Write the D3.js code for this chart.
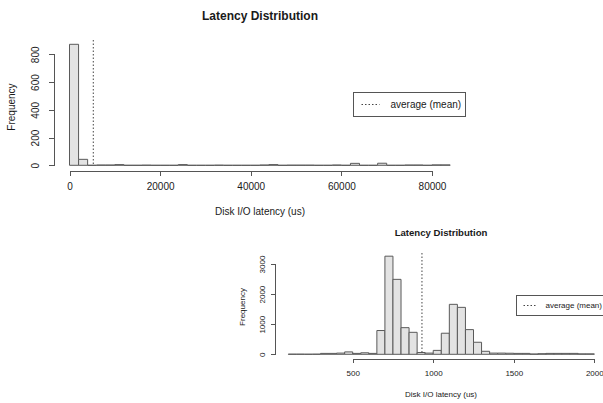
<html>
<head>
<style>
  body { margin: 0; background: #fff; }
  text { font-family: "Liberation Sans", Arial, Helvetica, sans-serif; fill: #1a1a1a; }
  .bar { fill: #e3e3e3; stroke: #5a5a5a; stroke-width: 1; }
  .axis path, .axis line { stroke: #555; shape-rendering: crispEdges; }
  .mean { stroke: #444; stroke-dasharray: 1.5,2; stroke-width: 1; }
  .legend rect { fill: #fff; stroke: #555; stroke-width: 1; }
</style>
</head>
<body>
<script src="https://cdn.jsdelivr.net/npm/d3@7"></script>
<script>
var width = 603, height = 403;

// top histogram: bins of 2000 us from 0 to 84000
var topBinStart = 0, topBinWidth = 2000;
var topCounts = [872, 43, 0, 2, 2, 5, 0, 0, 1, 0, 0, 0, 5, 0, 0, 0, 1, 0, 0, 0, 0,
                 2, 5, 0, 1, 1, 1, 0, 0, 2, 0, 14, 0, 0, 15, 0, 0, 2, 2, 0, 3, 3];
var topXTicks = [0, 20000, 40000, 60000, 80000];
var topYTicks = [0, 200, 400, 600, 800];
var topMean = 5250;

// bottom histogram: bins of 50 us from 100 to 2000
var botBinStart = 100, botBinWidth = 50;
var botCounts = [5, 5, 3, 5, 30, 30, 40, 80, 30, 50, 30, 790, 3260, 2490, 885, 730,
                 60, 40, 130, 700, 1660, 1560, 820, 400, 100, 40, 40, 35, 30, 30,
                 10, 20, 30, 30, 30, 30, 15, 15];
var botXTicks = [500, 1000, 1500, 2000];
var botYTicks = [0, 1000, 2000, 3000];
var botMean = 930;

var titleText = "Latency Distribution";
var xLabel = "Disk I/O latency (us)";
var yLabel = "Frequency";
var legendText = "average (mean)";

var svg = d3.select("body").append("svg")
    .attr("width", width)
    .attr("height", height);

function drawHist(c) {
    var x = d3.scaleLinear().domain([c.xTicks[0], c.xTicks[c.xTicks.length - 1]]).range(c.xr);
    var y = d3.scaleLinear().domain([c.yTicks[0], c.yTicks[c.yTicks.length - 1]]).range(c.yr);
    var g = svg.append("g");

    var bins = c.counts.map(function(v, i) {
        return { x0: c.binStart + i * c.binWidth, x1: c.binStart + (i + 1) * c.binWidth, n: v };
    });

    // paths so that empty bins still show as a line on the baseline
    g.selectAll(".bar").data(bins).enter().append("path")
        .attr("class", "bar")
        .attr("d", function(d) {
            var p = d3.path();
            p.moveTo(x(d.x0), y(0));
            p.lineTo(x(d.x0), y(d.n));
            p.lineTo(x(d.x1), y(d.n));
            p.lineTo(x(d.x1), y(0));
            p.closePath();
            return p.toString();
        });

    g.append("line").attr("class", "mean")
        .attr("x1", x(c.mean)).attr("x2", x(c.mean))
        .attr("y1", c.meanTop).attr("y2", y(0));

    var xa = g.append("g").attr("class", "axis")
        .attr("transform", "translate(0," + c.xAxisY + ")")
        .call(d3.axisBottom(x).tickValues(c.xTicks).tickSizeOuter(0).tickSize(c.tick).tickPadding(c.pad).tickFormat(d3.format("d")));
    xa.selectAll("text").style("font-size", c.fs + "px").attr("fill", "#1a1a1a");

    var ya = g.append("g").attr("class", "axis")
        .attr("transform", "translate(" + c.yAxisX + ",0)")
        .call(d3.axisLeft(y).tickValues(c.yTicks).tickSizeOuter(0).tickSize(c.tick).tickFormat(d3.format("d")));
    ya.selectAll("text")
        .style("font-size", c.fs + "px").attr("fill", "#1a1a1a")
        .attr("text-anchor", "middle").attr("dy", 0)
        .attr("x", 0).attr("y", 0)
        .attr("transform", function(d) { return "translate(" + (c.yLabX - c.yAxisX) + ",0) rotate(-90) translate(0," + (c.fs * 0.35) + ")"; });
    ya.selectAll(".domain, line").attr("stroke", "#555");
    xa.selectAll(".domain, line").attr("stroke", "#555");

    g.append("text").attr("x", c.titleX).attr("y", c.titleY)
        .attr("text-anchor", "middle").style("font-size", c.tfs + "px").style("font-weight", "bold")
        .text(titleText);
    g.append("text").attr("x", c.titleX).attr("y", c.xlabY)
        .attr("text-anchor", "middle").style("font-size", c.fs + "px")
        .text(xLabel);
    g.append("text")
        .attr("transform", "translate(" + c.ylabX + "," + c.ylabY + ") rotate(-90)")
        .attr("text-anchor", "middle").style("font-size", c.fs + "px")
        .text(yLabel);

    var lg = g.append("g").attr("class", "legend");
    lg.append("rect").attr("x", c.leg[0]).attr("y", c.leg[1]).attr("width", c.leg[2]).attr("height", c.leg[3]);
    lg.append("line").attr("class", "mean")
        .attr("x1", c.leg[0] + c.legS[0]).attr("x2", c.leg[0] + c.legS[1])
        .attr("y1", c.leg[1] + c.leg[3] / 2).attr("y2", c.leg[1] + c.leg[3] / 2);
    lg.append("text").attr("x", c.leg[0] + c.legS[2]).attr("y", c.leg[1] + c.leg[3] / 2 + c.fs * 0.35)
        .style("font-size", c.fs + "px").text(legendText);
}

drawHist({
    counts: topCounts, binStart: topBinStart, binWidth: topBinWidth,
    xTicks: topXTicks, yTicks: topYTicks, mean: topMean,
    xr: [69.5, 432], yr: [165.3, 54.3],
    xAxisY: 170.5, yAxisX: 53.5, tick: 5, pad: 7, fs: 10, tfs: 12,
    yLabX: 35, meanTop: 40,
    titleX: 260, titleY: 20, xlabY: 215, ylabX: 15, ylabY: 107,
    leg: [353.5, 92.5, 112, 24], legS: [8, 26, 37]
});

drawHist({
    counts: botCounts, binStart: botBinStart, binWidth: botBinWidth,
    xTicks: botXTicks, yTicks: botYTicks, mean: botMean,
    xr: [352.7, 594.3], yr: [354.3, 264],
    xAxisY: 359, yAxisX: 275, tick: 4, pad: 7, fs: 8, tfs: 9.6,
    yLabX: 262, meanTop: 253,
    titleX: 441, titleY: 236, xlabY: 397, ylabX: 245, ylabY: 307,
    leg: [516.5, 295.5, 110, 20], legS: [7, 21, 29]
});
</script>
</body>
</html>
